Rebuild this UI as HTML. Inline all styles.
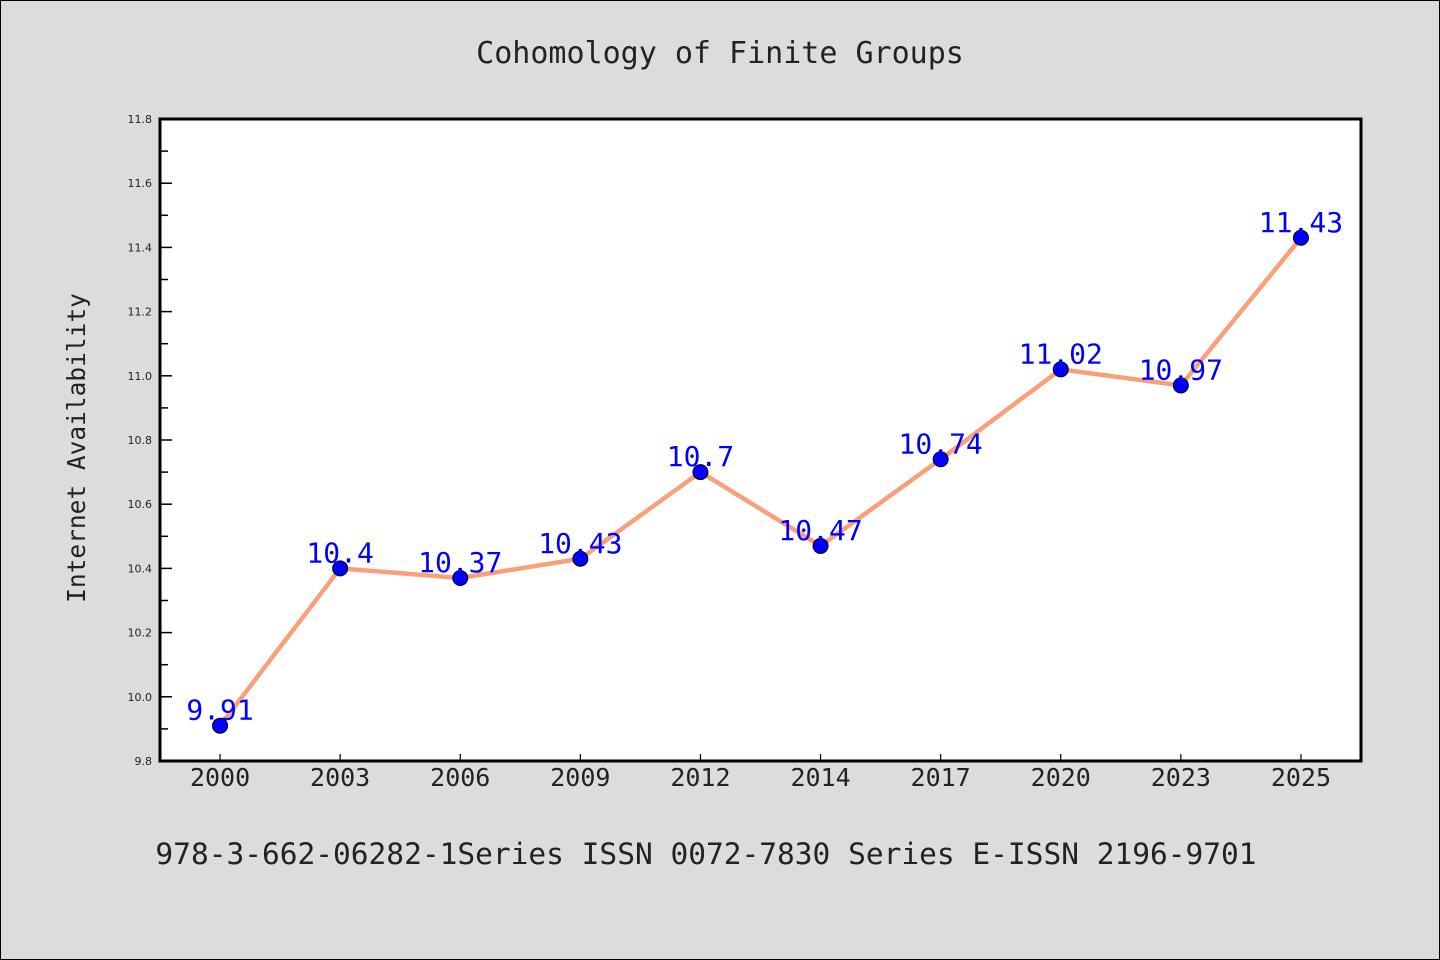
<!DOCTYPE html>
<html><head><meta charset="utf-8"><style>
html,body{margin:0;padding:0;background:#dcdcdc;}
svg{display:block;font-family:"WenQuanYi Zen Hei Mono","DejaVu Sans Mono","Liberation Mono",monospace;}
</style></head><body>
<svg id="chart" width="1440" height="960">
<rect x="0.5" y="0.5" width="1439" height="959" fill="#dcdcdc" stroke="#000"/>
<text x="720" y="63" text-anchor="middle" font-size="30" fill="#222">Cohomology of Finite Groups</text>
<rect x="160" y="119" width="1201" height="642" fill="#fff"/>
<g id="ticks"></g>
<g id="series"></g>
<rect x="160" y="119" width="1201" height="642" fill="none" stroke="#000" stroke-width="3"/>
<text transform="translate(85,448) rotate(-90)" text-anchor="middle" font-size="24.5" fill="#222">Internet Availability</text>
<text x="706" y="864" text-anchor="middle" font-size="29.5" fill="#222">978-3-662-06282-1Series ISSN 0072-7830 Series E-ISSN 2196-9701</text>
</svg>
<script>
const categories=["2000","2003","2006","2009","2012","2014","2017","2020","2023","2025"];
const values=[9.91,10.4,10.37,10.43,10.7,10.47,10.74,11.02,10.97,11.43];
const yTicks=[9.8,10.0,10.2,10.4,10.6,10.8,11.0,11.2,11.4,11.6,11.8];
const NS="http://www.w3.org/2000/svg";
const L=160,R=1361,T=119,B=761,ymin=9.8,ymax=11.8;
const band=(R-L)/categories.length;
const x=i=>L+band*(i+0.5);
const y=v=>B-(v-ymin)/(ymax-ymin)*(B-T);
function mk(tag,attrs,parent){const e=document.createElementNS(NS,tag);for(const k in attrs)e.setAttribute(k,attrs[k]);parent.appendChild(e);return e;}
const tg=document.getElementById('ticks'),sg=document.getElementById('series');
yTicks.forEach((v,i)=>{
  const t=mk('line',{x1:L,x2:L+12,y1:y(v),y2:y(v),stroke:'#000','stroke-width':1.5},tg);
  
  
  const lb=mk('text',{x:L-8,y:y(v)+4,'text-anchor':'end','font-size':11,fill:'#222','font-family':'"DejaVu Sans",sans-serif'},tg);
  lb.textContent=v.toFixed(1);
  
  
  if(i<yTicks.length-1){
    const m=mk('line',{x1:L,x2:L+8,y1:y(v+0.1),y2:y(v+0.1),stroke:'#000','stroke-width':1.5},tg);
    
    
  }
});
categories.forEach((c,i)=>{
  const t=mk('line',{x1:x(i),x2:x(i),y1:B,y2:B-7,stroke:'#000','stroke-width':1.2},tg);
  
  
  const lb=mk('text',{x:x(i),y:B+25,'text-anchor':'middle','font-size':25,fill:'#222'},tg);
  lb.textContent=c;
  
  
});
const pl=mk('polyline',{points:values.map((v,i)=>x(i)+','+y(v)).join(' '),fill:'none',stroke:'#f9a07a','stroke-width':4.5,'stroke-linejoin':'round'},sg);


values.forEach((v,i)=>{
  const c=mk('circle',{cx:x(i),cy:y(v),r:7.5,fill:'#0000ff',stroke:'#000','stroke-width':1},sg);
  
  
  const lb=mk('text',{x:x(i),y:y(v)-6,'text-anchor':'middle','font-size':28,fill:'#0000ff'},sg);
  lb.textContent=String(v);
  
  
});
</script>
</body></html>
